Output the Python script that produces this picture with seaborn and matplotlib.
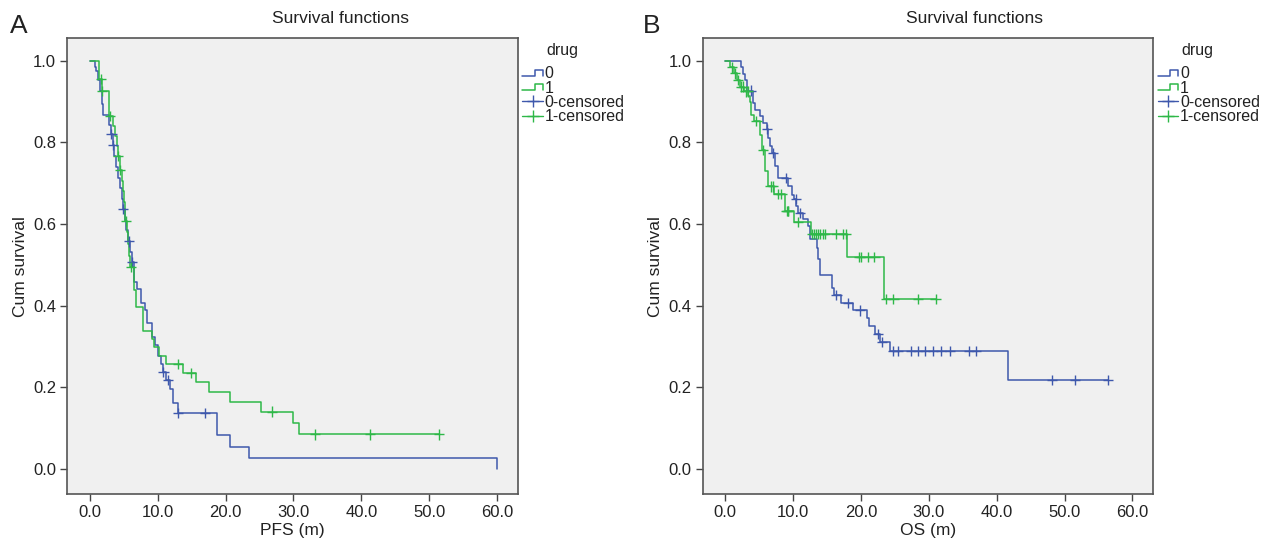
import numpy as np
import pandas as pd
import matplotlib
matplotlib.use("Agg")
import matplotlib.pyplot as plt
import seaborn as sns
from matplotlib.legend_handler import HandlerBase
from matplotlib.lines import Line2D

# ---- Panel A: PFS, Kaplan-Meier step knots (time in months, cumulative survival)
pfs_t0 = [0, 0.72, 0.96, 1.2, 1.55, 1.8, 1.95, 2.9, 3.1, 3.4, 3.6, 3.8, 4.1, 4.4, 4.7, 4.9,
          5.2, 5.4, 5.6, 6.0, 6.2, 6.55, 6.9, 7.5, 8.1, 8.5, 9.2, 9.6, 10.1, 10.5, 10.8,
          11.3, 11.8, 12.2, 13.0, 18.7, 20.6, 23.4, 60.0]
pfs_s0 = [1.0, 0.986, 0.974, 0.953, 0.927, 0.895, 0.868, 0.843, 0.820, 0.793, 0.766, 0.740,
          0.713, 0.687, 0.660, 0.636, 0.610, 0.584, 0.557, 0.532, 0.507, 0.457, 0.440, 0.406,
          0.390, 0.357, 0.323, 0.304, 0.276, 0.256, 0.237, 0.217, 0.195, 0.160, 0.137, 0.082,
          0.054, 0.027, 0.0]
pfs_cens0 = [3.2, 3.47, 4.95, 5.75, 6.26, 10.85, 11.5, 13.0, 17.0]

pfs_t1 = [0, 1.3, 1.75, 2.9, 3.4, 3.7, 4.0, 4.15, 4.4, 4.7, 4.85, 5.0, 5.15, 5.25, 5.5, 5.7,
          5.85, 6.0, 6.5, 6.75, 7.9, 9.2, 9.45, 10.2, 11.2, 13.7, 15.6, 17.6, 20.6, 25.3,
          29.9, 30.8, 51.5]
pfs_s1 = [1.0, 0.956, 0.926, 0.864, 0.840, 0.815, 0.790, 0.766, 0.733, 0.705, 0.680, 0.655,
          0.630, 0.607, 0.580, 0.550, 0.522, 0.494, 0.437, 0.396, 0.337, 0.318, 0.298, 0.277,
          0.257, 0.234, 0.2115, 0.188, 0.164, 0.140, 0.112, 0.084, 0.084]
pfs_cens1 = [1.65, 1.85, 3.0, 4.2, 4.45, 5.3, 6.07, 13.0, 14.9, 26.9, 33.2, 41.3, 51.5]

# ---- Panel B: OS
os_t0 = [0, 2.3, 2.6, 2.9, 3.2, 4.15, 4.4, 5.1, 5.6, 6.1, 6.3, 6.6, 6.9, 7.3, 7.8, 9.3, 9.8,
         10.1, 10.5, 10.8, 11.5, 12.2, 12.5, 13.5, 13.7, 14.0, 15.8, 16.0, 17.1, 18.8, 20.9,
         21.2, 22.1, 22.8, 24.3, 41.6, 56.4]
os_s0 = [1.0, 0.984, 0.968, 0.952, 0.927, 0.896, 0.880, 0.864, 0.848, 0.833, 0.810, 0.790,
         0.774, 0.741, 0.713, 0.692, 0.672, 0.661, 0.644, 0.627, 0.611, 0.594, 0.562, 0.541,
         0.513, 0.476, 0.443, 0.425, 0.407, 0.388, 0.370, 0.351, 0.330, 0.310, 0.288, 0.217,
         0.217]
os_cens0 = [3.75, 6.2, 7.1, 8.95, 10.4, 11.0, 16.4, 18.1, 19.9, 22.5, 23.1, 24.8, 25.5, 27.4,
            28.4, 29.4, 30.6, 31.8, 33.1, 35.9, 37.0, 48.2, 51.5, 56.4]

os_t1 = [0, 0.75, 1.3, 1.8, 2.2, 2.8, 3.4, 3.65, 3.8, 4.3, 5.1, 5.4, 5.9, 6.35, 7.2, 8.8,
         10.1, 12.6, 18.0, 23.4, 31.0]
os_s1 = [1.0, 0.984, 0.969, 0.953, 0.937, 0.925, 0.913, 0.900, 0.868, 0.853, 0.819, 0.782,
         0.729, 0.692, 0.674, 0.631, 0.604, 0.576, 0.519, 0.4166, 0.4166]
os_cens1 = [1.0, 1.45, 1.9, 2.4, 2.6, 3.0, 3.3, 4.6, 5.6, 6.7, 7.1, 7.8, 8.3, 9.05, 9.2, 9.3,
            10.7, 12.8, 13.1, 13.4, 13.7, 14.0, 14.4, 14.7, 16.4, 17.4, 17.8, 19.7, 20.0,
            21.0, 22.0, 23.7, 24.8, 28.4, 31.0]

groups = ["0", "1"]
legend_labels = ["0", "1", "0-censored", "1-censored"]
colors = {"0": "#3E58AC", "1": "#2EB848"}
x_ticks = [0, 10, 20, 30, 40, 50, 60]
y_ticks = [0.0, 0.2, 0.4, 0.6, 0.8, 1.0]


def surv_at(times, surv, t):
    # value of the step function at time t
    idx = np.searchsorted(times, t, side="right") - 1
    return np.asarray(surv)[idx]


def build_frames(curves, cens):
    lines = pd.concat([pd.DataFrame({"time": t, "surv": s, "drug": g})
                       for g, (t, s) in zip(groups, curves)], ignore_index=True)
    marks = pd.concat([pd.DataFrame({"time": c, "surv": surv_at(t, s, c), "drug": g})
                       for g, (t, s), c in zip(groups, curves, cens)], ignore_index=True)
    return lines, marks


class StepIcon:
    def __init__(self, color):
        self.color = color


class StepHandler(HandlerBase):
    # little step-shaped line, as SPSS draws it in the legend
    def create_artists(self, legend, orig_handle, xdescent, ydescent, width, height,
                       fontsize, trans):
        lo, hi = -ydescent + 0.2 * height, -ydescent + 0.75 * height
        xs = np.array([0, 0.6, 0.6, 1.0, 1.0]) * width - xdescent
        ys = [lo, lo, hi, hi, lo]
        return [Line2D(xs, ys, color=orig_handle.color, lw=1.1, transform=trans)]


sns.set_theme(style="ticks")
plt.rcParams["font.family"] = ["Liberation Sans", "DejaVu Sans"]

fig = plt.figure(figsize=(12.66, 5.41), dpi=100)
ax_a = fig.add_axes([0.0532, 0.087, 0.356, 0.842])
ax_b = fig.add_axes([0.5551, 0.087, 0.356, 0.842])

panels = [
    (ax_a, [(pfs_t0, pfs_s0), (pfs_t1, pfs_s1)], [pfs_cens0, pfs_cens1], "PFS (m)", "A", 0.269, 0.0075),
    (ax_b, [(os_t0, os_s0), (os_t1, os_s1)], [os_cens0, os_cens1], "OS (m)", "B", 0.770, 0.508),
]

for ax, curves, cens, xlabel, letter, title_x, letter_x in panels:
    lines, marks = build_frames(curves, cens)
    sns.lineplot(data=lines, x="time", y="surv", hue="drug", palette=colors,
                 estimator=None, sort=False, drawstyle="steps-post", lw=1.1,
                 legend=False, ax=ax)
    sns.scatterplot(data=marks, x="time", y="surv", hue="drug", palette=colors,
                    marker="+", s=55, linewidth=1.0, legend=False, ax=ax, zorder=3)

    ax.set_facecolor("#F0F0F0")
    ax.set_xlim(-3.3, 63.1)
    ax.set_ylim(-0.062, 1.055)
    ax.set_xticks(x_ticks)
    ax.set_xticklabels([f"{v:.1f}" for v in x_ticks])
    ax.set_yticks(y_ticks)
    ax.set_yticklabels([f"{v:.1f}" for v in y_ticks])
    ax.tick_params(labelsize=12, length=5, width=1.0, color="#444444",
                   labelcolor="#222222", pad=3)
    for sp in ax.spines.values():
        sp.set_visible(True)
        sp.set_color("#555555")
        sp.set_linewidth(1.2)
    ax.set_xlabel(xlabel, fontsize=12.5, color="#222222", labelpad=2)
    ax.set_ylabel("Cum survival", fontsize=12.5, color="#222222", labelpad=4)

    handles = [StepIcon(colors["0"]), StepIcon(colors["1"]),
               Line2D([], [], color=colors["0"], marker="+", ms=9, lw=1.0, mew=1.0),
               Line2D([], [], color=colors["1"], marker="+", ms=9, lw=1.0, mew=1.0)]
    leg = ax.legend(handles, legend_labels, handler_map={StepIcon: StepHandler()},
                    loc="upper left", bbox_to_anchor=(1.002, 0.946), frameon=False,
                    fontsize=11.5, handlelength=1.3, handletextpad=0.1,
                    labelspacing=-0.04, borderaxespad=0.0, borderpad=0.2)
    for txt in leg.get_texts():
        txt.set_color("#222222")
    ax.text(1.0976, 0.9726, "drug", transform=ax.transAxes, ha="center", va="center",
            fontsize=11.5, color="#222222")

    fig.text(title_x, 0.965, "Survival functions", ha="center", va="center",
             fontsize=12.5, color="#222222")
    fig.text(letter_x, 0.952, letter, ha="left", va="center", fontsize=19, color="#222222")

fig.savefig("out.png", dpi=100)
